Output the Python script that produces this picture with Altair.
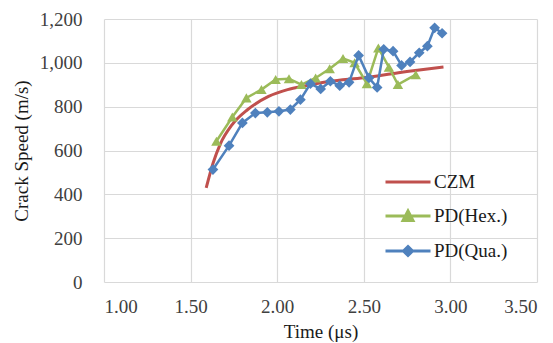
import altair as alt
import pandas as pd

series_names = ["CZM", "PD(Hex.)", "PD(Qua.)"]
series_colors = ["#C0504D", "#9BBB59", "#4F81BD"]

czm_t = [1.59, 1.63, 1.67, 1.74, 1.83, 1.95, 2.06, 2.16, 2.30, 2.50, 2.70, 2.96]
czm_v = [429, 543, 627, 718, 787, 847, 878, 895, 915, 932, 955, 981]

hex_t = [1.649, 1.741, 1.822, 1.909, 1.991, 2.068, 2.140, 2.222, 2.303, 2.380,
         2.447, 2.518, 2.584, 2.645, 2.697, 2.800]
hex_v = [642, 753, 840, 878, 924, 927, 901, 931, 973, 1020,
         1000, 905, 1068, 980, 901, 946]

qua_t = [1.629, 1.722, 1.799, 1.874, 1.943, 2.010, 2.076, 2.134, 2.192, 2.251,
         2.307, 2.361, 2.415, 2.470, 2.530, 2.577, 2.615, 2.669, 2.718, 2.767,
         2.820, 2.867, 2.909, 2.952]
qua_v = [513, 622, 726, 771, 774, 779, 787, 832, 905, 881,
         916, 896, 911, 1034, 931, 888, 1062, 1053, 988, 1004,
         1046, 1076, 1160, 1135]

x_ticks = [1.0, 1.5, 2.0, 2.5, 3.0, 3.5]
y_ticks = [0, 200, 400, 600, 800, 1000, 1200]

rows = []
for i, (t, v) in enumerate(zip(czm_t, czm_v)):
    rows.append({"series": "CZM", "t": t, "v": v, "ord": i})
for i, (t, v) in enumerate(zip(hex_t, hex_v)):
    rows.append({"series": "PD(Hex.)", "t": t, "v": v, "ord": i})
for i, (t, v) in enumerate(zip(qua_t, qua_v)):
    rows.append({"series": "PD(Qua.)", "t": t, "v": v, "ord": i})
df = pd.DataFrame(rows)

FONT = "Liberation Serif"

x_enc = alt.X("t:Q", title="Time (μs)",
              scale=alt.Scale(domain=[1.0, 3.5], nice=False),
              axis=alt.Axis(values=x_ticks, format=".2f", ticks=False, domain=False,
                            grid=True, labelPadding=15, titlePadding=6))
y_enc = alt.Y("v:Q", title="Crack Speed (m/s)",
              scale=alt.Scale(domain=[0, 1200], nice=False),
              axis=alt.Axis(values=y_ticks, format=",.0f", ticks=False, domain=False,
                            grid=True, labelPadding=22, titlePadding=8))

base = alt.Chart(df)

czm_line = base.mark_line(strokeWidth=3, interpolate="monotone",
                          color=series_colors[0]).transform_filter(
    alt.datum.series == "CZM"
).encode(x=x_enc, y=y_enc, order="ord:Q")

hex_line = base.mark_line(strokeWidth=2.5, color=series_colors[1]).transform_filter(
    alt.datum.series == "PD(Hex.)"
).encode(x=x_enc, y=y_enc, order="ord:Q")

qua_line = base.mark_line(strokeWidth=2.5, color=series_colors[2]).transform_filter(
    alt.datum.series == "PD(Qua.)"
).encode(x=x_enc, y=y_enc, order="ord:Q")

hex_pts = base.mark_point(filled=True, opacity=1, shape="triangle-up", size=110,
                          color=series_colors[1]).transform_filter(
    alt.datum.series == "PD(Hex.)"
).encode(x=x_enc, y=y_enc)

qua_pts = base.mark_point(filled=True, opacity=1, shape="diamond", size=115,
                          color=series_colors[2]).transform_filter(
    alt.datum.series == "PD(Qua.)"
).encode(x=x_enc, y=y_enc)

legend_shapes = [
    "M-1,0H1",
    "M-1,0H1M-0.22,0.2L0,-0.22L0.22,0.2Z",
    "M-1,0H1M0,-0.2L0.2,0L0,0.2L-0.2,0Z",
]

color_scale = alt.Scale(domain=series_names, range=series_colors)

leg = alt.Legend(orient="none", legendX=280, legendY=139,
                 symbolSize=2025, symbolStrokeWidth=3,
                 labelFont=FONT, labelFontSize=19,
                 labelColor="#1a1a1a", labelOffset=2, rowPadding=0)

legend_layer = base.mark_point(filled=True, opacity=1).transform_filter(
    alt.datum.series == "none"
).encode(
    x=x_enc, y=y_enc,
    fill=alt.Fill("series:N", scale=color_scale, title=None, legend=leg),
    stroke=alt.Stroke("series:N", scale=color_scale, title=None, legend=leg),
    shape=alt.Shape("series:N", scale=alt.Scale(domain=series_names, range=legend_shapes),
                    title=None, legend=leg),
)

chart = alt.layer(czm_line, hex_line, hex_pts, qua_line, qua_pts, legend_layer).properties(
    width=433, height=263,
    autosize=alt.AutoSizeParams(type="none"),
    padding={"left": 96, "top": 11, "right": 8, "bottom": 60},
    background="white",
).configure_axis(
    labelFont=FONT, titleFont=FONT, labelFontSize=19, titleFontSize=19,
    labelColor="#404040", titleColor="#1a1a1a", titleFontWeight="normal",
    gridColor="#d9d9d9", gridWidth=1.2,
).configure_view(stroke=None)

chart.save("out.html", embed_options={"renderer": "svg", "actions": False})
